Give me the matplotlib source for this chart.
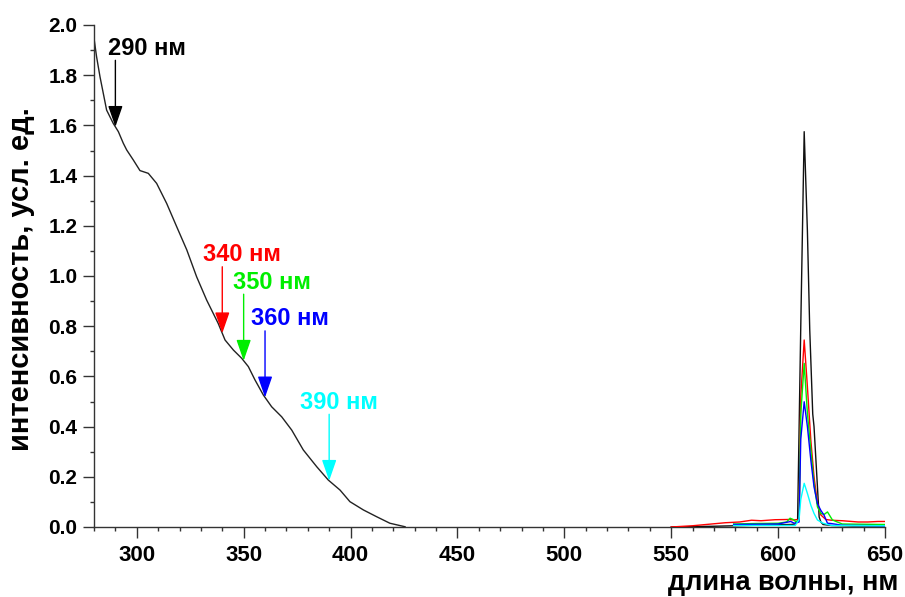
import numpy as np
import matplotlib
matplotlib.use("Agg")
import matplotlib.pyplot as plt
from matplotlib.ticker import MultipleLocator, FormatStrFormatter

plt.rcParams['font.family'] = ['Liberation Sans', 'DejaVu Sans']

# Excitation spectrum (black)
exc_wl = [280.0, 281.2, 282.8, 285.9, 289.0, 291.4, 293.7, 295.3, 298.4, 301.5,
          305.4, 309.3, 314.0, 318.7, 323.4, 328.0, 332.7, 338.1, 341.3, 345.2,
          349.1, 352.2, 355.3, 359.2, 363.1, 367.8, 372.5, 377.9, 384.2, 389.6,
          395.1, 399.7, 406.0, 412.2, 418.4, 425.5]
exc_int = [1.947, 1.874, 1.794, 1.661, 1.608, 1.575, 1.529, 1.502, 1.462, 1.420,
           1.409, 1.369, 1.289, 1.196, 1.104, 0.997, 0.904, 0.811, 0.745, 0.705,
           0.672, 0.639, 0.586, 0.526, 0.479, 0.439, 0.386, 0.307, 0.240, 0.187,
           0.147, 0.101, 0.068, 0.041, 0.015, 0.001]

# Emission spectra for each excitation wavelength
em_black_wl = [550, 570, 590, 600, 606, 608, 609.1, 610.6, 612.2, 613.7, 614.8,
               616.2, 616.8, 618.4, 619.2, 620, 621, 625, 635, 650]
em_black = [0.0, 0.003, 0.007, 0.009, 0.010, 0.012, 0.020, 0.80, 1.575, 1.18, 0.785,
            0.45, 0.40, 0.16, 0.04, 0.02, 0.010, 0.006, 0.004, 0.004]

em_red_wl = [550, 560, 575.3, 582, 587.6, 592, 598.6, 605, 607, 609.8, 610.6, 612.2,
             613.7, 615.3, 616.8, 618.4, 620, 622.3, 624.8, 630, 637.4, 642, 646.7, 650]
em_red = [0.0, 0.005, 0.017, 0.020, 0.027, 0.025, 0.029, 0.030, 0.028, 0.030, 0.52, 0.745,
          0.559, 0.346, 0.20, 0.094, 0.048, 0.030, 0.027, 0.025, 0.020, 0.020, 0.022, 0.022]

em_green_wl = [579.2, 590, 600, 604, 605.6, 607, 608.5, 609.8, 610.6, 612.2, 613.7,
               615.3, 616.8, 618.4, 620, 621.5, 623.1, 625.4, 630, 650]
em_green = [0.012, 0.014, 0.015, 0.020, 0.035, 0.030, 0.020, 0.030, 0.45, 0.652, 0.453,
            0.307, 0.174, 0.080, 0.054, 0.050, 0.060, 0.028, 0.012, 0.010]

em_blue_wl = [579.2, 600, 605.9, 607.5, 609.8, 610.6, 612.2, 613.7, 615.3, 616.8,
              618.4, 620, 621.5, 623.1, 624.6, 630, 650]
em_blue = [0.010, 0.012, 0.022, 0.015, 0.020, 0.35, 0.499, 0.40, 0.267, 0.16,
           0.093, 0.066, 0.047, 0.015, 0.014, 0.007, 0.005]

em_cyan_wl = [579.2, 600, 608, 609.8, 610.6, 612.2, 613.7, 615.3, 616.8, 618.4,
              621, 625, 650]
em_cyan = [0.006, 0.006, 0.006, 0.030, 0.11, 0.174, 0.134, 0.087, 0.054, 0.028,
           0.015, 0.006, 0.005]

# Marked excitation wavelengths
mark_wl = [290, 340, 350, 360, 390]
mark_labels = ['290 нм', '340 нм', '350 нм', '360 нм', '390 нм']
mark_colors = ['#000000', '#ff0000', '#00ee00', '#0000ff', '#00ffff']
label_shift = [-3.5, -9.0, -5.0, -6.5, -13.5]   # label left edge relative to arrow, nm

fig = plt.figure(figsize=(9.05, 5.97), dpi=100)
ax = fig.add_axes([94 / 905, 70 / 597, 791 / 905, 502 / 597])

ax.plot(exc_wl, exc_int, color='#222222', lw=1.0, solid_joinstyle='round')
ax.plot(em_black_wl, em_black, color='#111111', lw=1.0, zorder=3)
ax.plot(em_red_wl, em_red, color='#ff0000', lw=1.0, zorder=4)
ax.plot(em_green_wl, em_green, color='#00ee00', lw=1.0, zorder=5)
ax.plot(em_blue_wl, em_blue, color='#0000ff', lw=1.0, zorder=6)
ax.plot(em_cyan_wl, em_cyan, color='#00ffff', lw=1.0, zorder=7)

arrow_len = 0.265
for wl, lab, col, dx in zip(mark_wl, mark_labels, mark_colors, label_shift):
    tip = float(np.interp(wl, exc_wl, exc_int))
    tail = tip + arrow_len
    ax.annotate('', xy=(wl, tip), xytext=(wl, tail),
                arrowprops=dict(arrowstyle='-|>,head_length=1.3,head_width=0.45',
                                color=col, lw=1.0, shrinkA=0, shrinkB=0,
                                mutation_scale=10))
    ax.text(wl + dx, tail + 0.022, lab, color=col, fontsize=17, fontweight='bold',
            ha='left', va='baseline')

ax.set_xlim(280, 650)
ax.set_ylim(0, 2.0)
ax.xaxis.set_major_locator(MultipleLocator(50))
ax.xaxis.set_minor_locator(MultipleLocator(10))
ax.yaxis.set_major_locator(MultipleLocator(0.2))
ax.yaxis.set_minor_locator(MultipleLocator(0.1))
ax.yaxis.set_major_formatter(FormatStrFormatter('%.1f'))

for s in ['top', 'right']:
    ax.spines[s].set_visible(False)
for s in ['left', 'bottom']:
    ax.spines[s].set_color('#333333')
    ax.spines[s].set_linewidth(1.0)

ax.tick_params(which='major', direction='out', length=8, width=1.0, color='#333333')
ax.tick_params(which='minor', direction='out', length=3, width=1.0, color='#333333')
ax.tick_params(axis='x', which='major', labelsize=16, pad=5)
ax.tick_params(axis='y', which='major', labelsize=15, pad=4)
for lbl in ax.get_xticklabels() + ax.get_yticklabels():
    lbl.set_fontweight('bold')

ax.set_xlabel('длина волны, нм', fontsize=19.5, fontweight='bold', loc='right')
ax.xaxis.label.set_va('baseline')
ax.xaxis.set_label_coords(1.0164, -0.1255)
ax.set_ylabel('интенсивность, усл. ед.', fontsize=21, fontweight='bold')
ax.yaxis.set_label_coords(-0.074, 0.494)

fig.savefig('out.png', dpi=100)
